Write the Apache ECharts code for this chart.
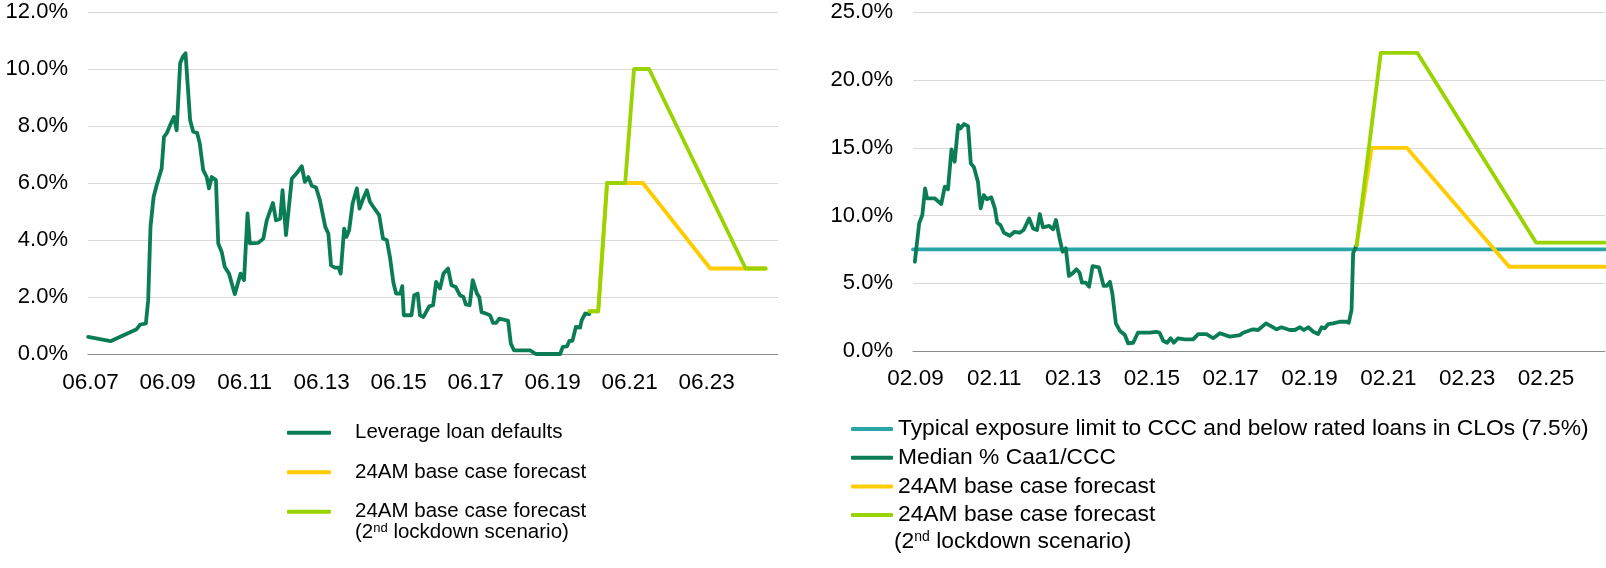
<!DOCTYPE html>
<html><head><meta charset="utf-8">
<script src="https://cdn.jsdelivr.net/npm/echarts@6/dist/echarts.min.js"></script>
<style>html,body{margin:0;padding:0;background:#fff}#chart{width:1606px;height:568px}</style>
</head><body><div id="chart"></div>
<script>
// ---------- Left panel: leveraged loan defaults (x = decimal year, y = %) ----------
const leftStart = 2007 + 5 / 12;   // Jun 2007
const leftEnd = 2025.34;

const defaultsYear = [2007.42,2008.0,2008.68,2008.77,2008.92,2008.98,2009.04,2009.12,2009.2,2009.33,
2009.39,2009.46,2009.55,2009.65,2009.72,2009.81,2009.88,2009.95,2010.07,2010.15,
2010.25,2010.32,2010.41,2010.5,2010.56,2010.63,2010.74,2010.8,2010.89,2010.97,
2011.08,2011.23,2011.38,2011.47,2011.56,2011.62,2011.84,2011.97,2012.06,2012.22,
2012.3,2012.41,2012.47,2012.56,2012.71,2012.83,2012.97,2013.05,2013.14,2013.23,
2013.34,2013.44,2013.58,2013.66,2013.73,2013.83,2013.93,2013.98,2014.07,2014.13,
2014.2,2014.29,2014.4,2014.47,2014.55,2014.66,2014.74,2014.83,2014.98,2015.08,
2015.18,2015.26,2015.35,2015.42,2015.53,2015.58,2015.62,2015.82,2015.89,2015.98,
2016.04,2016.13,2016.28,2016.38,2016.46,2016.56,2016.65,2016.77,2016.86,2016.97,
2017.08,2017.17,2017.23,2017.33,2017.41,2017.52,2017.58,2017.64,2017.75,2017.86,
2017.94,2018.02,2018.1,2018.21,2018.33,2018.4,2018.48,2018.9,2019.05,2019.68,
2019.75,2019.86,2019.92,2020.0,2020.09,2020.2,2020.24,2020.33,2020.44];
const defaultsPct = [0.60,0.45,0.87,1.03,1.07,1.89,4.46,5.51,5.92,6.51,
7.62,7.74,8.03,8.32,7.85,10.2,10.43,10.55,8.2,7.8,
7.76,7.39,6.45,6.21,5.81,6.21,6.1,3.88,3.58,3.05,
2.82,2.1,2.82,2.59,4.93,3.88,3.9,4.05,4.69,5.3,
4.69,4.75,5.75,4.17,6.15,6.33,6.59,6.04,6.21,5.9,
5.84,5.4,4.46,4.23,3.11,3.03,3.03,2.82,4.4,4.11,
4.34,5.28,5.81,5.1,5.4,5.75,5.34,5.16,4.87,4.05,
3.99,3.4,2.5,2.12,2.12,2.38,1.36,1.36,2.06,2.12,
1.36,1.3,1.67,1.71,2.53,2.3,2.82,3.0,2.41,2.35,
2.06,2.0,1.74,1.71,2.59,2.12,2.0,1.47,1.42,1.36,
1.09,1.09,1.24,1.21,1.16,0.37,0.13,0.13,0.0,0.0,
0.25,0.27,0.46,0.46,0.95,0.93,1.18,1.42,1.40];

const leftBaseYear = [2020.44, 2020.67, 2020.9, 2021.83, 2023.58, 2025.02];
const leftBasePct  = [1.5, 1.5, 6.0, 6.0, 3.0, 3.0];
const leftLockYear = [2020.44, 2020.67, 2020.9, 2021.37, 2021.6, 2021.99, 2024.5, 2025.02];
const leftLockPct  = [1.5, 1.5, 6.0, 6.0, 10.0, 10.0, 3.0, 3.0];

// ---------- Right panel: median % Caa1/CCC in CLOs ----------
const rightStart = 2009 + 1 / 12;  // Feb 2009
const rightEnd = 2026.64;

const medianYear = [2009.13,2009.24,2009.32,2009.39,2009.44,2009.63,2009.8,2009.89,2009.97,2010.06,
2010.14,2010.23,2010.29,2010.38,2010.48,2010.55,2010.63,2010.73,2010.8,2010.88,
2010.96,2011.07,2011.16,2011.22,2011.3,2011.39,2011.54,2011.66,2011.79,2011.89,
2012.03,2012.13,2012.23,2012.3,2012.38,2012.54,2012.64,2012.71,2012.81,2012.88,
2012.96,2013.04,2013.13,2013.23,2013.31,2013.37,2013.47,2013.55,2013.64,2013.8,
2013.92,2014.0,2014.08,2014.14,2014.23,2014.33,2014.46,2014.54,2014.67,2014.79,
2015.09,2015.26,2015.34,2015.43,2015.53,2015.62,2015.7,2015.81,2015.98,2016.19,
2016.32,2016.53,2016.7,2016.87,2017.12,2017.38,2017.46,2017.71,2017.84,2018.04,
2018.31,2018.43,2018.64,2018.77,2018.9,2019.0,2019.11,2019.24,2019.36,2019.45,
2019.53,2019.62,2019.74,2019.91,2020.08,2020.14,2020.21,2020.25,2020.34];
const medianPct = [6.59,9.42,10.04,12.0,11.27,11.27,10.85,12.13,11.93,14.88,
13.97,16.68,16.43,16.75,16.6,13.85,13.56,12.5,10.53,11.51,
11.2,11.34,10.53,9.47,9.3,8.73,8.51,8.8,8.73,8.93,
9.79,9.05,8.93,10.11,9.13,9.23,8.98,9.67,8.19,7.33,
7.58,5.54,5.73,6.03,5.78,5.04,5.04,4.75,6.27,6.18,
4.8,4.8,5.11,4.26,2.04,1.5,1.18,0.57,0.61,1.35,
1.35,1.42,1.35,0.76,0.61,0.94,0.61,0.94,0.86,0.86,
1.25,1.25,0.94,1.31,1.06,1.18,1.35,1.6,1.55,2.04,
1.6,1.75,1.55,1.55,1.75,1.55,1.75,1.42,1.25,1.75,
1.67,1.99,2.04,2.16,2.16,2.09,3.03,7.21,7.82];

const limitYear = [rightStart, rightEnd];
const limitPct  = [7.5, 7.5];
const rightBaseYear = [2020.34, 2020.72, 2021.61, 2024.21, rightEnd];
const rightBasePct  = [7.82, 15.0, 15.0, 6.22, 6.22];
const rightLockYear = [2020.34, 2020.95, 2021.88, 2024.89, rightEnd];
const rightLockPct  = [7.82, 22.0, 22.0, 8.0, 8.0];

// ---------- Labels ----------
const legendText = {
  'L-defaults': 'Leverage loan defaults',
  'L-base': '24AM base case forecast',
  'L-lock': '24AM base case forecast',
  'R-limit': 'Typical exposure limit to CCC and below rated loans in CLOs (7.5%)',
  'R-median': 'Median % Caa1/CCC',
  'R-base': '24AM base case forecast',
  'R-lock': '24AM base case forecast'
};
const lockdownLine = '(2{sup|nd} lockdown scenario)';

// ---------- Styling ----------
const DARK = '#0B7D55', TEAL = '#2AA5A7', YELLOW = '#FFCC00', LIME = '#99D400';
const FONT = '"Liberation Sans", Arial, sans-serif';

const zip = (xs, ys) => xs.map((x, i) => [x, ys[i]]);

function xFormatter(start) {
  return function (v) {
    const k = (v - start) / 2;
    if (Math.abs(k - Math.round(k)) > 0.01) return '';
    const y = Math.floor(v + 1e-6);
    const m = Math.round((v - y) * 12) + 1;
    return String(m).padStart(2, '0') + '.' + String(y % 100).padStart(2, '0');
  };
}
const yFormatter = v => v.toFixed(1) + '%';

function line(name, color, xi, data, z) {
  return {
    name, type: 'line', xAxisIndex: xi, yAxisIndex: xi, data,
    showSymbol: false, symbol: 'none', z,
    itemStyle: { color }, lineStyle: { color, width: 3.8, cap: 'round', join: 'round' },
    emphasis: { disabled: true }, animation: false
  };
}

const xAxisCommon = {
  type: 'value', interval: 2,
  axisLine: { show: true, lineStyle: { color: '#8C8C8C', width: 1 } },
  axisTick: { show: false }, splitLine: { show: false },
};
const yAxisCommon = {
  type: 'value', min: 0,
  axisLine: { show: false }, axisTick: { show: false },
  splitLine: { show: true, lineStyle: { color: '#D9D9D9', width: 1 } },
  axisLabel: { formatter: yFormatter, color: '#000', fontFamily: FONT, fontSize: 22, margin: 20 }
};

const chart = echarts.init(document.getElementById('chart'), null, { renderer: 'canvas' });
chart.setOption({
  animation: false,
  backgroundColor: '#fff',
  grid: [
    { left: 88, top: 12, width: 690, height: 342, outerBoundsMode: 'none', containLabel: false },
    { left: 913, top: 12.3, width: 692, height: 338.7, outerBoundsMode: 'none', containLabel: false }
  ],
  xAxis: [
    Object.assign({}, xAxisCommon, { gridIndex: 0, min: leftStart, max: leftEnd,
      axisLabel: { formatter: xFormatter(leftStart), color: '#000', fontFamily: FONT, fontSize: 22.5, margin: 17, padding: [0, 0, 0, 5] } }),
    Object.assign({}, xAxisCommon, { gridIndex: 1, min: rightStart, max: rightEnd,
      axisLabel: { formatter: xFormatter(rightStart), color: '#000', fontFamily: FONT, fontSize: 22.5, margin: 16, padding: [0, 0, 0, 5] } })
  ],
  yAxis: [
    Object.assign({}, yAxisCommon, { gridIndex: 0, max: 12, interval: 2 }),
    Object.assign({}, yAxisCommon, { gridIndex: 1, max: 25, interval: 5 })
  ],
  legend: [
    { left: 282, top: 415.7, orient: 'vertical', itemWidth: 44, itemHeight: 4, itemGap: 15.5,
      icon: 'roundRect', selectedMode: false, data: ['L-defaults', 'L-base', 'L-lock'],
      formatter: n => legendText[n],
      textStyle: { fontFamily: FONT, fontSize: 20.5, color: '#000', lineHeight: 24, padding: [0, 0, 0, 19] } },
    { left: 846, top: 412, orient: 'vertical', itemWidth: 42, itemHeight: 4, itemGap: 4.7,
      icon: 'roundRect', selectedMode: false, data: ['R-limit', 'R-median', 'R-base', 'R-lock'],
      formatter: n => legendText[n],
      textStyle: { fontFamily: FONT, fontSize: 22.8, color: '#000', lineHeight: 24 } }
  ],
  graphic: [
    { type: 'text', x: 355, y: 532.5, silent: true,
      style: { text: lockdownLine, fill: '#000', fontFamily: FONT, fontSize: 20.5, verticalAlign: 'middle',
        rich: { sup: { fontFamily: FONT, fontSize: 13, verticalAlign: 'top', fill: '#000' } } } },
    { type: 'text', x: 894, y: 541.5, silent: true,
      style: { text: lockdownLine, fill: '#000', fontFamily: FONT, fontSize: 22.8, verticalAlign: 'middle',
        rich: { sup: { fontFamily: FONT, fontSize: 14, verticalAlign: 'top', fill: '#000' } } } }
  ],
  series: [
    line('L-defaults', DARK, 0, zip(defaultsYear, defaultsPct), 3),
    line('L-base', YELLOW, 0, zip(leftBaseYear, leftBasePct), 4),
    line('L-lock', LIME, 0, zip(leftLockYear, leftLockPct), 5),
    line('R-limit', TEAL, 1, zip(limitYear, limitPct), 2),
    line('R-median', DARK, 1, zip(medianYear, medianPct), 3),
    line('R-base', YELLOW, 1, zip(rightBaseYear, rightBasePct), 4),
    line('R-lock', LIME, 1, zip(rightLockYear, rightLockPct), 5)
  ]
});
</script></body></html>
